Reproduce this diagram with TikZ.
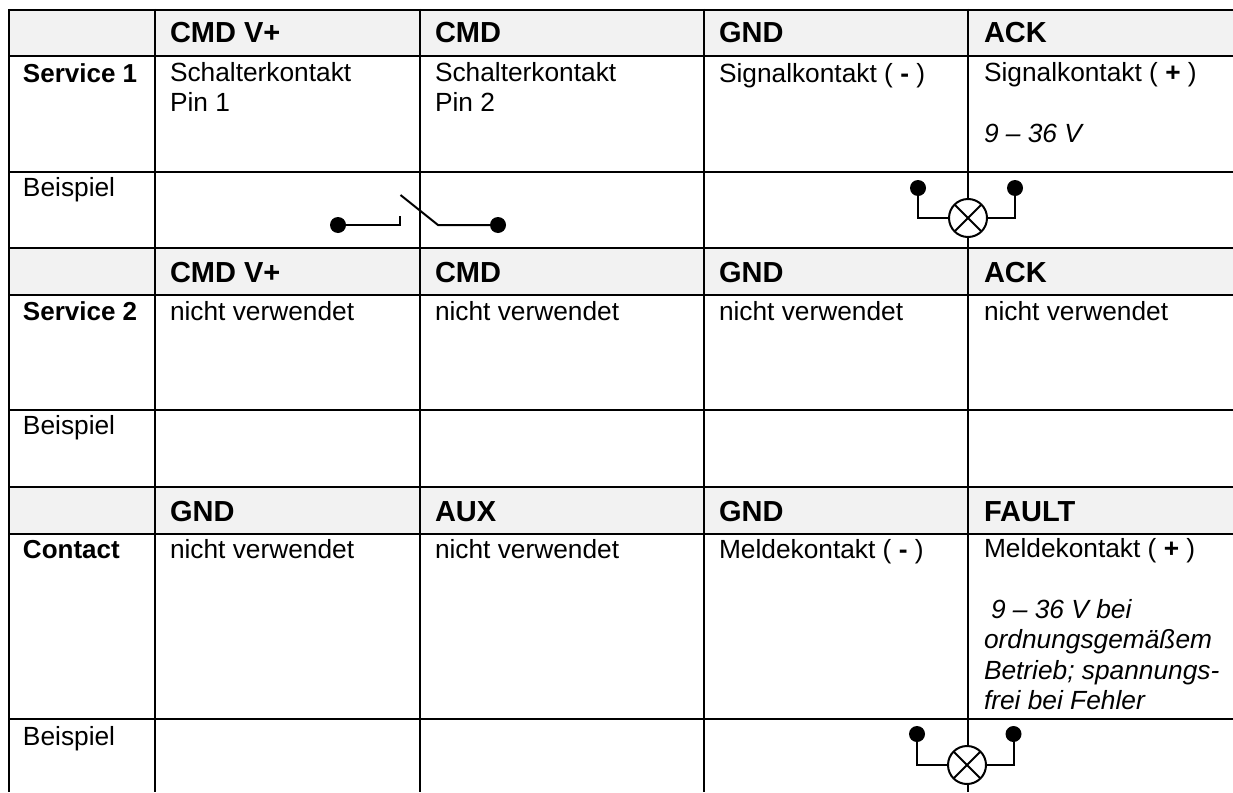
\documentclass[tikz,border=0pt]{standalone}
\usepackage{fontspec}
\setmainfont{Liberation Sans}
\usetikzlibrary{calc}
\definecolor{hdr}{HTML}{F2F2F2}
\tikzset{
  x=1pt,y=-1pt,
  grid/.style={line width=2pt,black,line cap=butt},
  cell/.style={anchor=base west,inner sep=0pt,outer sep=0pt,text=black,align=left,font=\fontsize{26.3}{30.5}\selectfont},
  head/.style={anchor=base west,inner sep=0pt,outer sep=0pt,text=black,font=\fontsize{29}{34}\bfseries\selectfont},
  rowname/.style={anchor=base west,inner sep=0pt,outer sep=0pt,text=black,font=\fontsize{26}{30.5}\bfseries\selectfont},
  dot/.style={circle,fill=black,inner sep=0pt,minimum size=16pt,outer sep=0pt},
  wire/.style={line width=2pt,black},
  lamp/.style={circle,draw=black,fill=white,line width=2pt,minimum size=38pt,inner sep=0pt,outer sep=0pt,
    append after command={
      (\tikzlastnode.45) edge[wire] (\tikzlastnode.225)
      (\tikzlastnode.135) edge[wire] (\tikzlastnode.315)}},
}
\begin{document}
\begin{tikzpicture}
\useasboundingbox (0,0) rectangle (1233,792);
% header fills
\fill[hdr] (9,10) rectangle (1233,56.5);
\fill[hdr] (9,248) rectangle (1233,295);
\fill[hdr] (9,487) rectangle (1233,533.5);
% grid
\foreach \yy in {10,56.5,171.5,248,295,410,487,533.5,719}
  \draw[grid] (8,\yy) -- (1233,\yy);
\foreach \xx in {9,155,420,704,968}
  \draw[grid] (\xx,9) -- (\xx,792);
% row 1
\node[head] (h11) at (170,42) {CMD V+};
\node[head] (h12) at (435,42) {CMD};
\node[head] (h13) at (719,42) {GND};
\node[head] (h14) at (984,42) {ACK};
\node[rowname] (r1) at (23,82) {Service 1};
\node[cell,anchor=north west] (c11) at (170,62) {Schalterkontakt\\Pin 1};
\node[cell,anchor=north west] (c12) at (435,62) {Schalterkontakt\\Pin 2};
\node[cell] (c13) at (719,82) {Signalkontakt ( \textbf{-} )};
\node[cell,anchor=north west] (c14) at (984,62) {Signalkontakt ( \textbf{+} )\\[30.5pt]\textit{9 – 36 V}};
\node[cell] (b1) at (23,196) {Beispiel};
% row 2
\node[head] (h21) at (170,282) {CMD V+};
\node[head] (h22) at (435,282) {CMD};
\node[head] (h23) at (719,282) {GND};
\node[head] (h24) at (984,282) {ACK};
\node[rowname] (r2) at (23,320) {Service 2};
\node[cell] (c21) at (170,320) {nicht verwendet};
\node[cell] (c22) at (435,320) {nicht verwendet};
\node[cell] (c23) at (719,320) {nicht verwendet};
\node[cell] (c24) at (984,320) {nicht verwendet};
\node[cell] (b2) at (23,434) {Beispiel};
% row 3
\node[head] (h31) at (170,521) {GND};
\node[head] (h32) at (435,521) {AUX};
\node[head] (h33) at (719,521) {GND};
\node[head] (h34) at (984,521) {FAULT};
\node[rowname] (r3) at (23,558) {Contact};
\node[cell] (c31) at (170,558) {nicht verwendet};
\node[cell] (c32) at (435,558) {nicht verwendet};
\node[cell] (c33) at (719,558) {Meldekontakt ( \textbf{-} )};
\node[cell,anchor=north west] (c34) at (984,538) {Meldekontakt ( \textbf{+} )\\[30.5pt]\textit{\hspace*{7pt}9 – 36 V bei}\\\textit{ordnungsgemäßem}\\\textit{Betrieb; spannungs-}\\\textit{frei bei Fehler}};
\node[cell] (b3) at (23,745) {Beispiel};
% switch
\node[dot] (s1) at (338,225) {};
\node[dot] (s2) at (498,225) {};
\coordinate (s1a) at (400,225);
\coordinate (s1b) at (400,216);
\coordinate (s2a) at (438,225);
\coordinate (s2b) at (400.5,195);
\draw[wire] (s1) -- (s1a) -- (s1b);
\draw[wire] (s2) -- (s2a) -- (s2b);
% lamp 1
\node[lamp] (l1) at (968,218) {};
\node[dot] (l1a) at (918,188) {};
\node[dot] (l1b) at (1015,188) {};
\draw[wire] (l1a) |- (l1);
\draw[wire] (l1b) |- (l1);
% lamp 2
\node[lamp] (l2) at (967,765) {};
\node[dot] (l2a) at (917,734) {};
\node[dot] (l2b) at (1013.5,734) {};
\draw[wire] (l2a) |- (l2);
\draw[wire] (l2b) |- (l2);
\end{tikzpicture}
\end{document}
